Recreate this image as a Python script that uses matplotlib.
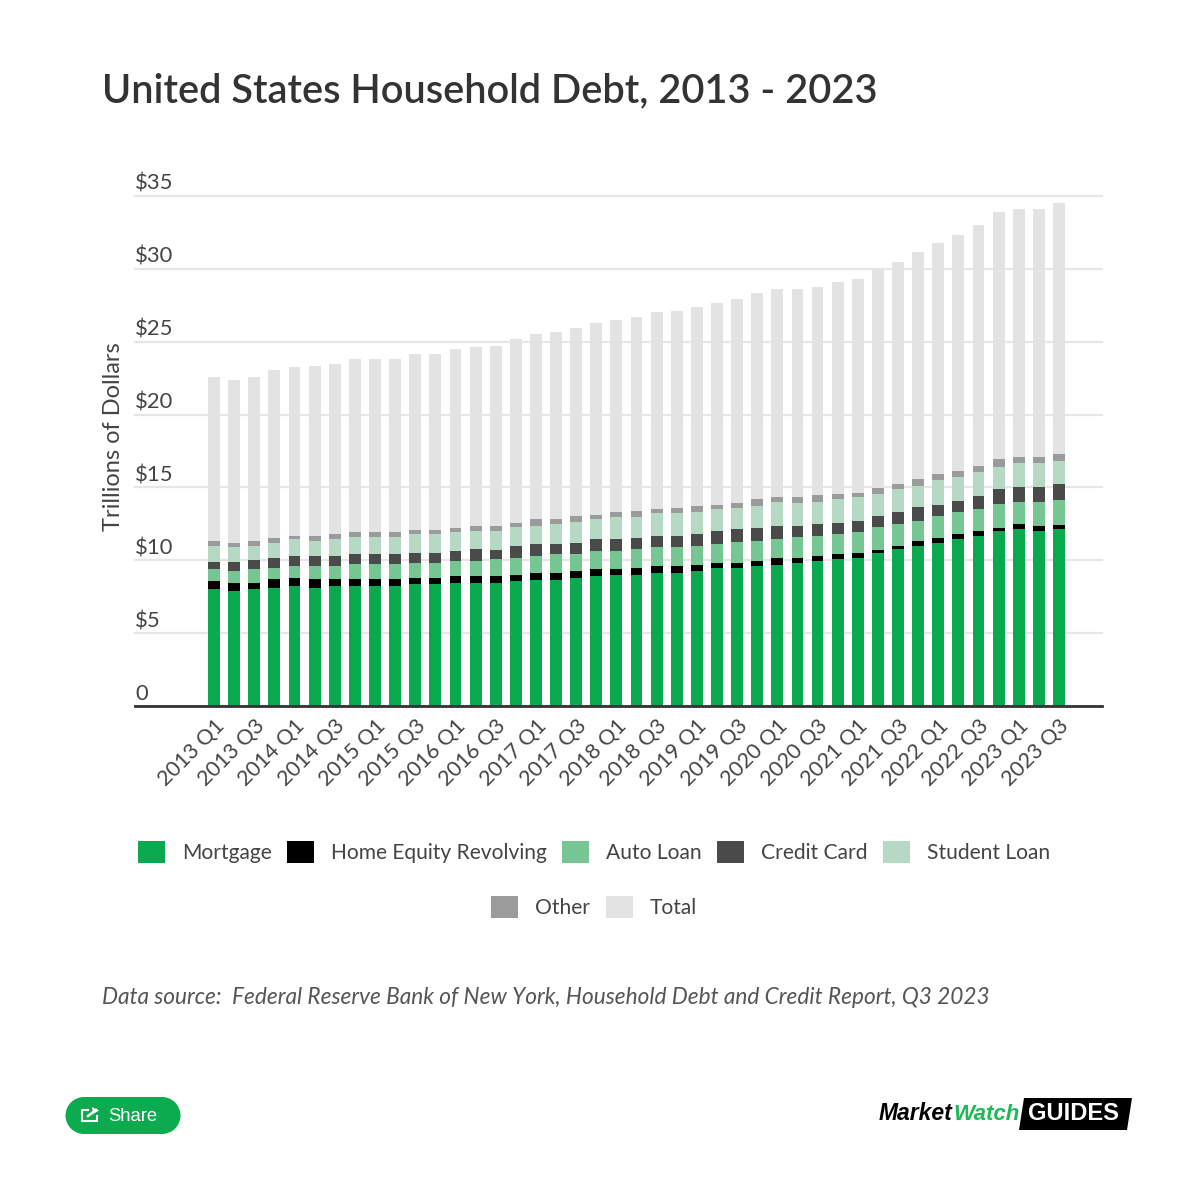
import matplotlib
matplotlib.use('Agg')
import matplotlib.pyplot as plt
from matplotlib.patches import Patch, Polygon
from matplotlib.transforms import ScaledTranslation

plt.rcParams['font.family'] = ['Lato', 'DejaVu Sans']

# quarters on the x axis
quarters = [f'{y} Q{q}' for y in range(2013, 2024) for q in range(1, 5)][:43]

# values in trillions of dollars
mortgage = [8.00, 7.87, 8.00, 8.12, 8.24, 8.12, 8.24, 8.24, 8.24, 8.24, 8.35, 8.35, 8.47,
            8.44, 8.44, 8.56, 8.67, 8.67, 8.79, 8.90, 9.02, 9.02, 9.13, 9.13, 9.24, 9.47, 9.47, 9.59, 9.70,
            9.82, 9.93, 10.07, 10.16, 10.50, 10.76, 10.98, 11.21, 11.44, 11.67, 12.01, 12.13, 12.01, 12.13]
home_equity = [.57, .57, .43, .57, .55, .57, .46, .46, .46, .46, .43, .43, .43,
               .46, .46, .46, .46, .43, .46, .48, .37, .48, .48, .48, .46, .34, .34, .34, .48,
               .37, .37, .34, .34, .23, .23, .34, .32, .34, .34, .21, .34, .32, .32]
auto_loan = [.80, .84, .94, .80, .82, .92, .92, 1.03, 1.03, 1.03, 1.05, 1.05, 1.08,
             1.05, 1.17, 1.17, 1.17, 1.30, 1.17, 1.28, 1.28, 1.28, 1.28, 1.28, 1.30, 1.30, 1.42, 1.42, 1.28,
             1.40, 1.40, 1.37, 1.42, 1.53, 1.51, 1.40, 1.53, 1.51, 1.51, 1.67, 1.51, 1.65, 1.67]
credit_card = [.53, .62, .64, .66, .69, .69, .69, .69, .69, .69, .66, .66, .64,
               .80, .66, .80, .80, .69, .80, .78, .78, .76, .78, .78, .78, .89, .89, .87, .87,
               .73, .76, .78, .80, .76, .78, .92, .76, .78, .92, .98, 1.03, 1.03, 1.12]
student_loan = [1.10, 1.00, .98, 1.05, 1.14, 1.05, 1.14, 1.17, 1.17, 1.17, 1.30, 1.30, 1.31,
                1.26, 1.28, 1.30, 1.28, 1.42, 1.40, 1.40, 1.51, 1.44, 1.56, 1.56, 1.51, 1.51, 1.49, 1.53, 1.65,
                1.60, 1.56, 1.65, 1.60, 1.53, 1.62, 1.49, 1.69, 1.67, 1.60, 1.56, 1.65, 1.65, 1.60]
other = [.30, .30, .30, .32, .20, .32, .34, .34, .34, .34, .32, .32, .30,
         .32, .32, .30, .43, .30, .39, .30, .32, .43, .30, .39, .41, .30, .34, .46, .34,
         .41, .43, .32, .32, .43, .34, .43, .43, .41, .46, .53, .41, .41, .46]
total = [11.25, 11.18, 11.28, 11.52, 11.63, 11.63, 11.69, 11.87, 11.87, 11.87, 12.07, 12.07, 12.24,
         12.28, 12.35, 12.62, 12.72, 12.83, 12.96, 13.13, 13.20, 13.27, 13.51, 13.51, 13.65, 13.85, 13.99, 14.16, 14.27,
         14.27, 14.33, 14.57, 14.64, 15.02, 15.26, 15.60, 15.81, 16.19, 16.53, 16.94, 17.04, 17.04, 17.25]

series = [mortgage, home_equity, auto_loan, credit_card, student_loan, other, total]
names = ['Mortgage', 'Home Equity Revolving', 'Auto Loan', 'Credit Card', 'Student Loan', 'Other', 'Total']
colors = ['#0aa84f', '#000000', '#75c692', '#4a4a4a', '#b6d9c5', '#9b9b9b', '#e3e3e3']

fig = plt.figure(figsize=(12, 12.03), dpi=100)
ax = fig.add_axes([135 / 1200, 1 - 706 / 1203, 967 / 1200, 510 / 1203])

# stacked bars
xs = list(range(len(quarters)))
bottom = [0] * len(quarters)
for vals, name, col in zip(series, names, colors):
    ax.bar(xs, vals, width=0.59, bottom=bottom, color=col, label=name, zorder=3)
    bottom = [b + v for b, v in zip(bottom, vals)]

ax.set_xlim(-3.93, 44.14)
ax.set_ylim(0, 35)

ax.set_yticks(range(0, 40, 5))
ax.set_yticklabels(['0', '$5', '$10', '$15', '$20', '$25', '$30', '$35'], fontsize=15.8, color='#444444')
ax.tick_params(axis='y', length=0, pad=0)
# labels sit just above their gridlines, flush with the left end
lift = ScaledTranslation(0, 1.5 / 72, fig.dpi_scale_trans)
for lab in ax.get_yticklabels():
    lab.set_ha('left')
    lab.set_va('bottom')
    lab.set_transform(lab.get_transform() + lift)
ax.grid(axis='y', color='#e6e6e6', linewidth=1.6, zorder=0, clip_on=False)
ax.set_axisbelow(True)

ax.set_xticks(xs[::2])
ax.set_xticklabels(quarters[::2], rotation=45, ha='right', rotation_mode='anchor',
                   fontsize=15.5, color='#444444')
ax.tick_params(axis='x', length=0, pad=7)

for s in ['top', 'left', 'right']:
    ax.spines[s].set_visible(False)
ax.spines['bottom'].set_color('#333333')
ax.spines['bottom'].set_linewidth(2.0)
ax.spines['bottom'].set_zorder(5)

# overlay in pixel coordinates for the page furniture
top = fig.add_axes([0, 0, 1, 1], zorder=10)
top.set_xlim(0, 1200)
top.set_ylim(1203, 0)
top.axis('off')
top.patch.set_alpha(0)

top.text(102, 91, 'United States Household Debt, 2013 - 2023', fontsize=28.6, fontweight=600,
         color='#333333', va='center', ha='left')
top.text(114, 437, 'Trillions of Dollars', fontsize=17, color='#444444', rotation=90,
         va='center', ha='center')
top.text(102, 997, 'Data source:  Federal Reserve Bank of New York, Household Debt and Credit Report, Q3 2023',
         fontsize=16.3, style='italic', color='#555555', va='center', ha='left')

# legend, two centred rows
handles = [Patch(facecolor=c, label=n) for c, n in zip(colors, names)]
leg_opts = dict(frameon=False, fontsize=15.15, labelcolor='#444444', handlelength=1.28, handleheight=1.28,
                handletextpad=0.8, columnspacing=0.74, loc='center', borderpad=0, borderaxespad=0,
                bbox_transform=top.transData)
leg1 = top.legend(handles=handles[:5], ncol=5, bbox_to_anchor=(594, 852), **leg_opts)
top.add_artist(leg1)
top.legend(handles=handles[5:], ncol=2, bbox_to_anchor=(594, 907), **leg_opts)

# share button
top.add_patch(plt.Rectangle((84, 1097), 78, 37, facecolor='#0dab4f', edgecolor='none'))
top.add_patch(plt.Circle((84, 1115.5), 18.5, color='#0dab4f', ec='none'))
top.add_patch(plt.Circle((162, 1115.5), 18.5, color='#0dab4f', ec='none'))
top.plot([88, 82, 82, 97, 97], [1110, 1110, 1121, 1121, 1116], color='white', lw=1.5)
top.plot([88, 96], [1116, 1110], color='white', lw=1.8)
top.add_patch(Polygon([[92, 1107], [99, 1110.5], [93, 1114]], facecolor='white', edgecolor='none'))
top.text(108, 1116.5, 'Share', fontsize=13.3, family='Liberation Sans', color='white', va='center', ha='left')

# logo
top.add_patch(Polygon([[1024, 1098], [1132, 1098], [1127, 1130], [1019, 1130]], facecolor='black', edgecolor='none'))
top.text(879, 1114, 'Market', fontsize=16.5, fontweight='bold', style='italic', family='Liberation Sans',
         color='black', va='center', ha='left')
top.text(953, 1114, 'Watch', fontsize=16, fontweight='bold', style='italic', family='Liberation Sans',
         color='#1db954', va='center', ha='left')
top.text(1028, 1114, 'GUIDES', fontsize=17, fontweight='bold', family='Liberation Sans',
         color='white', va='center', ha='left')

fig.savefig('out.png', dpi=100)
